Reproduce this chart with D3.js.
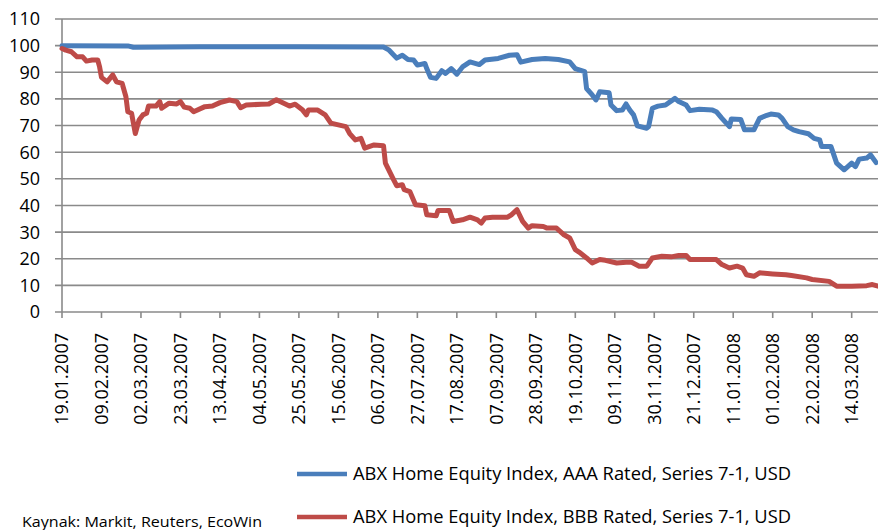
<!DOCTYPE html>
<html>
<head>
<meta charset="utf-8">
<script src="https://cdn.jsdelivr.net/npm/d3@7"></script>
<style>
  body { margin: 0; background: #fff; }
  text { font-family: "Open Sans", sans-serif; fill: #000; }
</style>
</head>
<body>
<svg width="878" height="530"></svg>
<script>
// ABX index, AAA tranche (date, price)
var aaaSeries = [
  ["19.01.2007", 100.0], ["23.02.2007", 99.9], ["26.02.2007", 99.4], ["02.04.2007", 99.6],
  ["25.05.2007", 99.6], ["09.07.2007", 99.5], ["12.07.2007", 98.3], ["16.07.2007", 95.3],
  ["19.07.2007", 96.4], ["22.07.2007", 94.8], ["25.07.2007", 94.6], ["27.07.2007", 92.7],
  ["31.07.2007", 93.3], ["01.08.2007", 91.4], ["03.08.2007", 88.1], ["06.08.2007", 87.7],
  ["09.08.2007", 90.6], ["11.08.2007", 89.6], ["14.08.2007", 91.4], ["17.08.2007", 89.3],
  ["20.08.2007", 92.0], ["24.08.2007", 93.9], ["29.08.2007", 92.9], ["01.09.2007", 94.6],
  ["08.09.2007", 95.2], ["14.09.2007", 96.4], ["18.09.2007", 96.6], ["20.09.2007", 93.8],
  ["26.09.2007", 94.8], ["03.10.2007", 95.2], ["10.10.2007", 94.8], ["16.10.2007", 93.9],
  ["19.10.2007", 91.4], ["24.10.2007", 90.2], ["25.10.2007", 83.9], ["28.10.2007", 81.5],
  ["30.10.2007", 79.6], ["01.11.2007", 82.7], ["06.11.2007", 82.3], ["07.11.2007", 77.7],
  ["10.11.2007", 75.6], ["13.11.2007", 75.8], ["15.11.2007", 78.1], ["17.11.2007", 75.8],
  ["19.11.2007", 74.0], ["21.11.2007", 69.9], ["26.11.2007", 69.0], ["27.11.2007", 69.6],
  ["29.11.2007", 76.5], ["02.12.2007", 77.3], ["06.12.2007", 77.7], ["11.12.2007", 80.2],
  ["13.12.2007", 79.0], ["17.12.2007", 77.7], ["19.12.2007", 75.6], ["24.12.2007", 76.1],
  ["31.12.2007", 75.8], ["02.01.2008", 75.2], ["05.01.2008", 72.7], ["09.01.2008", 69.6],
  ["10.01.2008", 72.5], ["15.01.2008", 72.3], ["17.01.2008", 68.4], ["22.01.2008", 68.4],
  ["25.01.2008", 72.7], ["28.01.2008", 73.6], ["31.01.2008", 74.3], ["04.02.2008", 74.0],
  ["06.02.2008", 72.7], ["09.02.2008", 69.6], ["12.02.2008", 68.4], ["15.02.2008", 67.7],
  ["20.02.2008", 66.9], ["23.02.2008", 65.2], ["26.02.2008", 64.6], ["27.02.2008", 62.1],
  ["03.03.2008", 62.1], ["06.03.2008", 55.9], ["10.03.2008", 53.4], ["14.03.2008", 55.9],
  ["16.03.2008", 54.6], ["18.03.2008", 57.4], ["22.03.2008", 57.8], ["24.03.2008", 59.0],
  ["27.03.2008", 56.1]
];

// ABX index, BBB tranche (date, price)
var bbbSeries = [
  ["19.01.2007", 98.9], ["21.01.2007", 98.3], ["24.01.2007", 97.7], ["27.01.2007", 95.8],
  ["30.01.2007", 95.8], ["01.02.2007", 94.2], ["04.02.2007", 94.6], ["07.02.2007", 94.6],
  ["08.02.2007", 92.0], ["09.02.2007", 88.1], ["12.02.2007", 86.4], ["15.02.2007", 89.0],
  ["17.02.2007", 86.4], ["20.02.2007", 85.8], ["22.02.2007", 80.8], ["23.02.2007", 75.2],
  ["25.02.2007", 74.6], ["27.02.2007", 67.0], ["01.03.2007", 72.1], ["03.03.2007", 74.0],
  ["05.03.2007", 74.6], ["06.03.2007", 77.3], ["10.03.2007", 77.3], ["12.03.2007", 79.0],
  ["13.03.2007", 76.5], ["17.03.2007", 78.4], ["21.03.2007", 78.1], ["23.03.2007", 79.0],
  ["25.03.2007", 76.9], ["28.03.2007", 76.5], ["30.03.2007", 75.2], ["05.04.2007", 77.1],
  ["09.04.2007", 77.3], ["13.04.2007", 78.6], ["18.04.2007", 79.6], ["22.04.2007", 79.0],
  ["24.04.2007", 76.7], ["27.04.2007", 77.7], ["05.05.2007", 78.0], ["09.05.2007", 78.1],
  ["13.05.2007", 79.7], ["15.05.2007", 79.0], ["20.05.2007", 77.3], ["23.05.2007", 78.0],
  ["27.05.2007", 75.8], ["29.05.2007", 74.0], ["30.05.2007", 75.8], ["04.06.2007", 75.8],
  ["08.06.2007", 74.0], ["11.06.2007", 70.9], ["19.06.2007", 69.6], ["21.06.2007", 67.0],
  ["24.06.2007", 64.6], ["27.06.2007", 65.2], ["29.06.2007", 61.5], ["04.07.2007", 62.7],
  ["09.07.2007", 62.4], ["10.07.2007", 55.9], ["14.07.2007", 50.2], ["16.07.2007", 47.4],
  ["19.07.2007", 47.8], ["20.07.2007", 45.9], ["23.07.2007", 45.2], ["26.07.2007", 40.3],
  ["31.07.2007", 39.9], ["01.08.2007", 36.5], ["06.08.2007", 36.1], ["07.08.2007", 38.1],
  ["13.08.2007", 38.1], ["15.08.2007", 34.0], ["20.08.2007", 34.6], ["24.08.2007", 35.6],
  ["28.08.2007", 34.6], ["30.08.2007", 33.4], ["01.09.2007", 35.3], ["05.09.2007", 35.6],
  ["13.09.2007", 35.6], ["15.09.2007", 36.5], ["18.09.2007", 38.4], ["21.09.2007", 34.0],
  ["24.09.2007", 31.5], ["26.09.2007", 32.4], ["02.10.2007", 32.1], ["04.10.2007", 31.5],
  ["09.10.2007", 31.5], ["13.10.2007", 29.0], ["16.10.2007", 27.8], ["19.10.2007", 23.4],
  ["21.10.2007", 22.5], ["25.10.2007", 20.3], ["28.10.2007", 18.4], ["01.11.2007", 19.7],
  ["04.11.2007", 19.4], ["10.11.2007", 18.4], ["15.11.2007", 18.7], ["18.11.2007", 18.7],
  ["22.11.2007", 17.2], ["26.11.2007", 17.2], ["29.11.2007", 20.3], ["04.12.2007", 20.9],
  ["09.12.2007", 20.7], ["13.12.2007", 21.2], ["17.12.2007", 21.2], ["19.12.2007", 19.7],
  ["02.01.2008", 19.7], ["05.01.2008", 17.8], ["09.01.2008", 16.5], ["13.01.2008", 17.2],
  ["16.01.2008", 16.5], ["18.01.2008", 14.0], ["22.01.2008", 13.4], ["25.01.2008", 14.7],
  ["01.02.2008", 14.3], ["08.02.2008", 14.0], ["11.02.2008", 13.7], ["19.02.2008", 12.8],
  ["22.02.2008", 12.2], ["02.03.2008", 11.5], ["06.03.2008", 9.7], ["14.03.2008", 9.7],
  ["22.03.2008", 9.9], ["25.03.2008", 10.3], ["28.03.2008", 9.7]
];

var tickLabels = [
  "19.01.2007", "09.02.2007", "02.03.2007", "23.03.2007", "13.04.2007", "04.05.2007",
  "25.05.2007", "15.06.2007", "06.07.2007", "27.07.2007", "17.08.2007", "07.09.2007",
  "28.09.2007", "19.10.2007", "09.11.2007", "30.11.2007", "21.12.2007", "11.01.2008",
  "01.02.2008", "22.02.2008", "14.03.2008"
];
var yTicks = [0, 10, 20, 30, 40, 50, 60, 70, 80, 90, 100, 110];
var axisStart = "19.01.2007", axisEnd = "28.03.2008";

var seriesNames = [
  "ABX Home Equity Index, AAA Rated, Series 7-1, USD",
  "ABX Home Equity Index, BBB Rated, Series 7-1, USD"
];
var sourceNote = "Kaynak: Markit, Reuters, EcoWin";

var parse = d3.timeParse("%d.%m.%Y");
var svg = d3.select("svg");
var plotLeft = 62, plotRight = 878, plotTop = 19, plotBottom = 312;
var gridColor = "#8a8a8a";
var blue = "#4a7ebb", red = "#be4b48";

var x = d3.scaleTime().domain([parse(axisStart), parse(axisEnd)]).range([plotLeft, plotRight]);
var y = d3.scaleLinear().domain([0, 110]).range([plotBottom, plotTop]);

// horizontal grid
svg.append("g")
  .selectAll("line")
  .data(yTicks)
  .enter()
  .append("line")
    .attr("x1", plotLeft - 7)
    .attr("x2", plotRight)
    .attr("y1", function (d) { return y(d); })
    .attr("y2", function (d) { return y(d); })
    .attr("stroke", gridColor)
    .attr("stroke-width", 1.6);

// y axis line
svg.append("line")
  .attr("x1", plotLeft).attr("x2", plotLeft)
  .attr("y1", plotTop).attr("y2", plotBottom)
  .attr("stroke", gridColor).attr("stroke-width", 1.6);

svg.append("g")
  .selectAll("text")
  .data(yTicks)
  .enter()
  .append("text")
    .attr("x", plotLeft - 22)
    .attr("y", function (d) { return y(d); })
    .attr("dy", "0.36em")
    .attr("text-anchor", "end")
    .attr("font-size", "18px")
    .text(function (d) { return d; });

// x ticks + rotated labels
var tickDates = tickLabels.map(parse);
svg.append("g")
  .selectAll("line")
  .data(tickDates)
  .enter()
  .append("line")
    .attr("x1", function (d) { return x(d); })
    .attr("x2", function (d) { return x(d); })
    .attr("y1", plotBottom)
    .attr("y2", plotBottom + 6)
    .attr("stroke", gridColor)
    .attr("stroke-width", 1.6);

svg.append("g")
  .selectAll("text")
  .data(tickLabels)
  .enter()
  .append("text")
    .attr("transform", function (d) { return "translate(" + x(parse(d)) + "," + (plotBottom + 21) + ") rotate(-90)"; })
    .attr("dy", "0.36em")
    .attr("text-anchor", "end")
    .attr("font-size", "18px")
    .text(function (d) { return d; });

// series lines
var line = d3.line()
  .x(function (d) { return x(parse(d[0])); })
  .y(function (d) { return y(d[1]); });

svg.append("path")
  .datum(aaaSeries)
  .attr("d", line)
  .attr("fill", "none")
  .attr("stroke", blue)
  .attr("stroke-width", 5)
  .attr("stroke-linejoin", "round")
  .attr("stroke-linecap", "round");

svg.append("path")
  .datum(bbbSeries)
  .attr("d", line)
  .attr("fill", "none")
  .attr("stroke", red)
  .attr("stroke-width", 5)
  .attr("stroke-linejoin", "round")
  .attr("stroke-linecap", "round");

// legend
var legend = svg.append("g");
var legendRows = [[seriesNames[0], blue, 474], [seriesNames[1], red, 517]];
legendRows.forEach(function (r) {
  legend.append("line")
    .attr("x1", 297).attr("x2", 347)
    .attr("y1", r[2]).attr("y2", r[2])
    .attr("stroke", r[1]).attr("stroke-width", 4.5);
  legend.append("text")
    .attr("x", 353)
    .attr("y", r[2])
    .attr("dy", "0.36em")
    .attr("font-size", "18px")
    .attr("textLength", 438)
    .attr("lengthAdjust", "spacingAndGlyphs")
    .text(r[0]);
});

svg.append("text")
  .attr("x", 22)
  .attr("y", 527)
  .attr("font-size", "15px")
  .attr("textLength", 240)
  .attr("lengthAdjust", "spacingAndGlyphs")
  .text(sourceNote);
</script>
</body>
</html>
